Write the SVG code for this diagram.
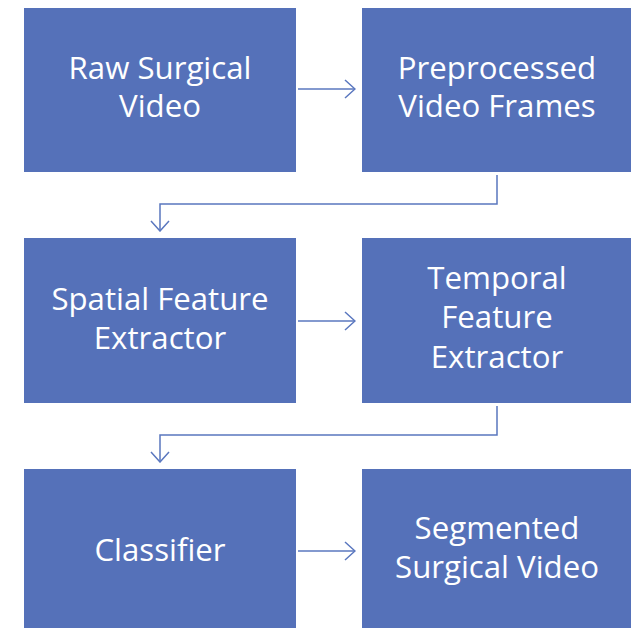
<svg xmlns="http://www.w3.org/2000/svg" width="631" height="628" viewBox="0 0 631 628">
<style>
.box{fill:#5571B9}
.t{font-family:"Open Sans","Liberation Sans",sans-serif;font-size:31.2px;fill:#ffffff;text-anchor:middle}
.c{fill:none;stroke:#5A77BF;stroke-width:1.5}
</style>
<defs>
<marker id="ah" viewBox="0 0 12 20" refX="11" refY="10" markerWidth="12" markerHeight="20" markerUnits="userSpaceOnUse" orient="auto">
<path d="M1,1 L11,10 L1,19" fill="none" stroke="#5A77BF" stroke-width="1.5"/>
</marker>
</defs>
<rect width="631" height="628" fill="#ffffff"/>
<g id="n1"><rect class="box" x="24" y="8" width="272" height="164"/><text class="t" x="160" y="79">Raw Surgical</text><text class="t" x="160" y="117">Video</text></g>
<g id="n2"><rect class="box" x="362" y="8" width="272" height="164"/><text class="t" x="497" y="79">Preprocessed</text><text class="t" x="497" y="117">Video Frames</text></g>
<g id="n3"><rect class="box" x="24" y="238" width="272" height="165"/><text class="t" x="160" y="310">Spatial Feature</text><text class="t" x="160" y="349">Extractor</text></g>
<g id="n4"><rect class="box" x="362" y="238" width="272" height="165"/><text class="t" x="497" y="289">Temporal</text><text class="t" x="497" y="328">Feature</text><text class="t" x="497" y="368">Extractor</text></g>
<g id="n5"><rect class="box" x="24" y="469" width="272" height="165"/><text class="t" x="160" y="561">Classifier</text></g>
<g id="n6"><rect class="box" x="362" y="469" width="272" height="165"/><text class="t" x="497" y="539">Segmented</text><text class="t" x="497" y="578">Surgical Video</text></g>
<g id="connectors">
<path class="c" d="M298,89 H355" marker-end="url(#ah)"/>
<path class="c" d="M497,175 V204 H160 V231" marker-end="url(#ah)"/>
<path class="c" d="M298,321 H355" marker-end="url(#ah)"/>
<path class="c" d="M497,406 V435 H160 V462" marker-end="url(#ah)"/>
<path class="c" d="M298,551 H355" marker-end="url(#ah)"/>
</g>
</svg>
